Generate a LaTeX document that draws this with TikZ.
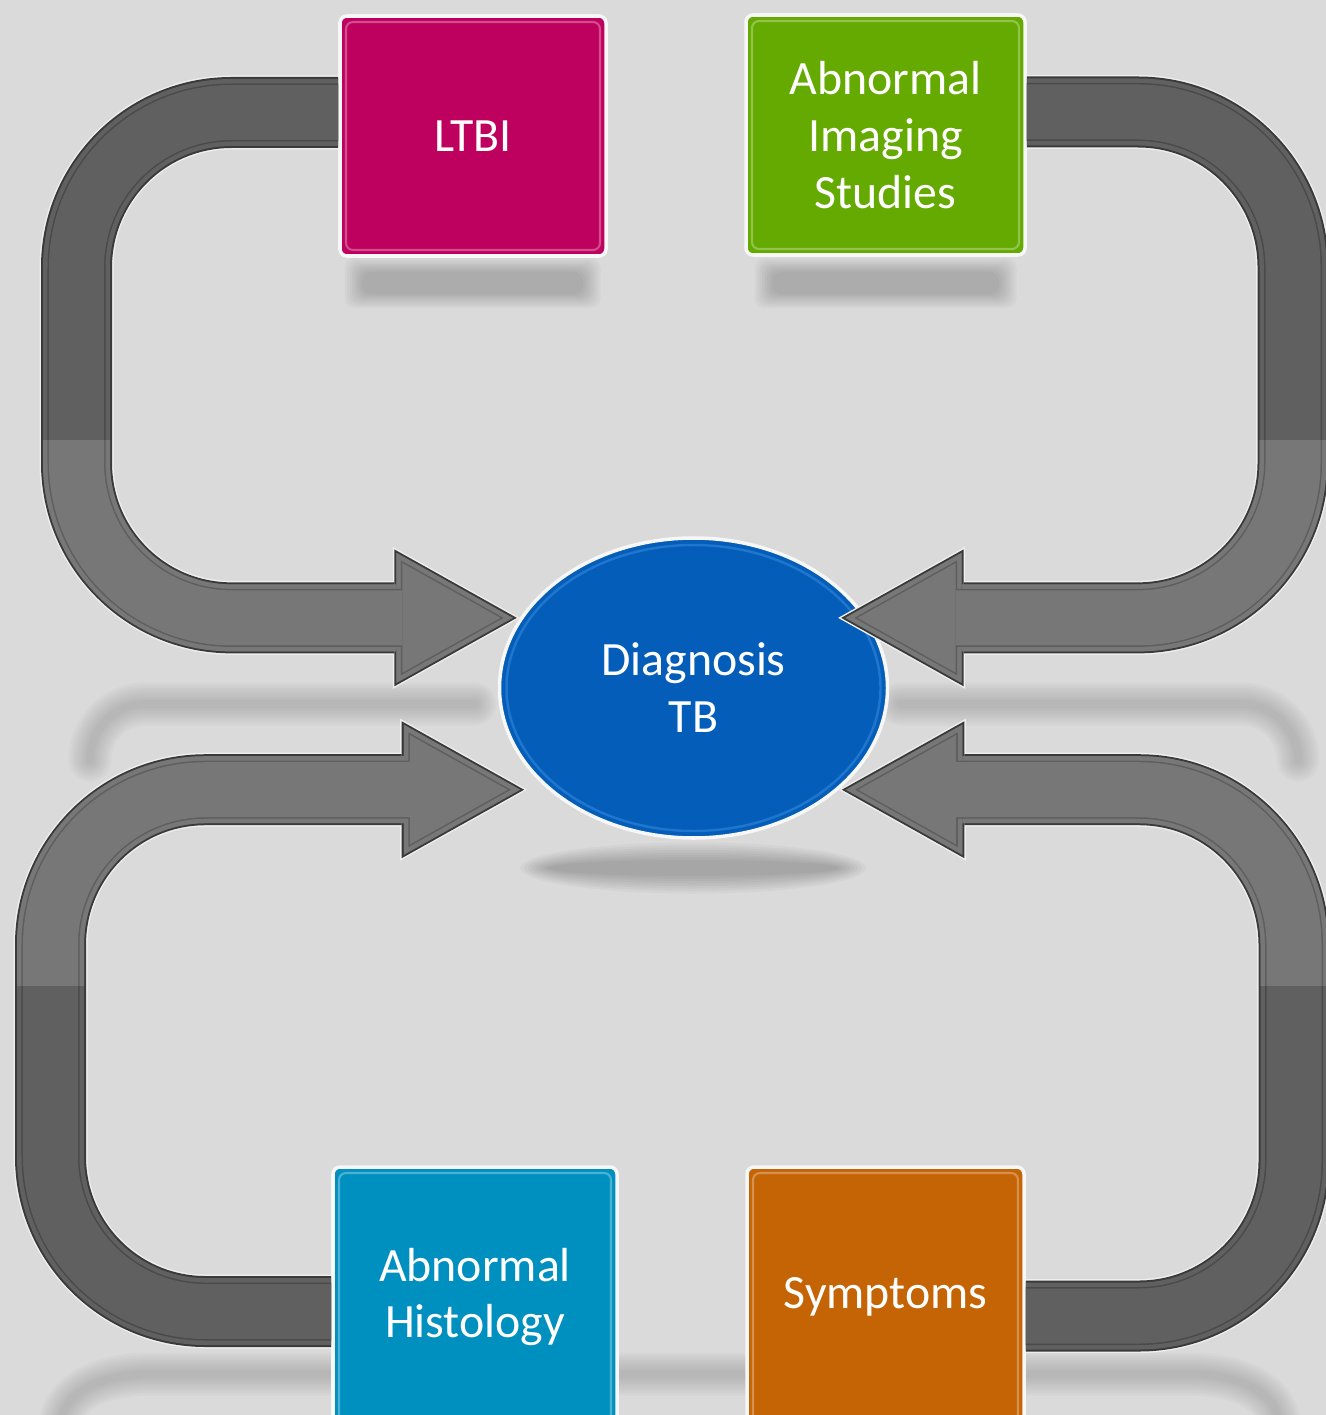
\documentclass[tikz,border=0pt]{standalone}
\usepackage{fontspec}
\setmainfont{Carlito}
\usetikzlibrary{arrows.meta,shapes.geometric}

\definecolor{bgcol}{HTML}{DADADA}
\definecolor{ltbicol}{HTML}{BE005E}
\definecolor{imgcol}{HTML}{64AA00}
\definecolor{histcol}{HTML}{0090C0}
\definecolor{sympcol}{HTML}{C46404}
\definecolor{diagcol}{HTML}{045EB9}
\definecolor{diaglight}{HTML}{3A8FE0}
\definecolor{bandrim}{HTML}{EEEEEE}
\definecolor{bandedge}{HTML}{3A3A3A}
\definecolor{banddark}{HTML}{606060}
\definecolor{bandline}{HTML}{4A4A4A}
\definecolor{bandlight}{HTML}{777777}
\definecolor{bandlineb}{HTML}{5E5E5E}

\tikzset{
  box/.style={draw=white!94!gray, line width=1pt, rounded corners=2pt,
    text=white, align=center, inner sep=0pt,
    font=\fontsize{13.6}{16.2}\selectfont,
    path picture={\draw[white, opacity=.3, line width=.6pt]
      ([shift={(.06,-.06)}]path picture bounding box.north west) rectangle
      ([shift={(-.06,.06)}]path picture bounding box.south east);}},
  hub/.style={ellipse, fill=diagcol, draw=white!94!gray, line width=1pt,
    minimum width=3.88cm, minimum height=3cm, inner sep=0pt,
    text=white, align=center, font=\fontsize{13.6}{16.2}\selectfont,
    path picture={\draw[diaglight, opacity=.5, line width=.7pt]
      (path picture bounding box.center) ellipse [x radius=1.87cm, y radius=1.43cm];}},
  softshadow/.style={black, opacity=.026, line cap=round}
}

% one layer of a fat arrow, inset by \d px
\newcommand\bandlayer{%
  \pgfmathsetmacro\f{(41.6-\d)/41.6}%
  \pgfmathsetlengthmacro\bandwd{(0.74-\d/50)*1cm}%
  \pgfmathsetlengthmacro\tiplen{1.27cm*\f}%
  \pgfmathsetlengthmacro\tipwid{1.42cm*\f}%
  \pgfmathsetlengthmacro\tipcut{0.0205cm*\d}%
  \draw[draw=\col, line width=\bandwd, rounded corners=1.55cm, shorten >=\tipcut,
    -{Triangle[length=\tiplen, width=\tipwid, line width=0pt]}] \bandpath;}

\begin{document}
\begin{tikzpicture}
   \useasboundingbox (0,0) rectangle (13.26,-14.15);
   \fill[bgcol] (0,0) rectangle (13.26,-14.15);

   % soft shadows and reflections
   \foreach \w in {0,...,7} {
      \fill[softshadow, rounded corners=.1cm]
         (3.62-\w*.025,-2.72+\w*.02) rectangle (5.83+\w*.025,-2.94-\w*.02)
         (7.72-\w*.025,-2.72+\w*.02) rectangle (9.99+\w*.025,-2.94-\w*.02);
      \draw[softshadow, opacity=.02, line width=.08cm+\w*.05cm]
         (4.75,-7.04) -- (1.45,-7.04) to[out=180,in=90] (.9,-7.6)
         (9.0,-7.04) -- (12.4,-7.04) to[out=0,in=90] (12.98,-7.6)
         (.6,-14.3) to[out=90,in=180] (1.5,-13.74) -- (11.9,-13.74) to[out=0,in=90] (12.8,-14.3);
      \fill[softshadow, opacity=.03] (6.93,-8.68) ellipse [x radius=1.45cm+\w*.04cm, y radius=.08cm+\w*.025cm];
   }

   \def \Boxes {
      ltbi/4.73/-1.36/2.66/2.40/ltbicol/LTBI,
      imaging/8.855/-1.35/2.79/2.40/imgcol/{Abnormal\\Imaging\\Studies},
      histology/4.75/-12.97/2.84/2.60/histcol/{Abnormal\\Histology},
      symptoms/8.855/-12.97/2.77/2.60/sympcol/Symptoms}
   \def \Links {
      ltbi.west/.235/.765/-1.125/158/0,
      imaging.east/.23/12.93/-1.12/22/-.29,
      histology.west/-.145/.505/-13.115/215/-.21,
      symptoms.east/-.19/12.94/-13.16/325/0}
   \def \DarkLayers {0/bandrim, 1.5/bandedge, 3.5/banddark, 8/bandline, 9.5/banddark}
   \def \LightLayers {3.5/bandlight, 8/bandlineb, 9.5/bandlight}

   \node[hub] (diag) at (6.935,-6.88) {Diagnosis\\TB};
   \foreach \n / \x / \y / \w / \h / \fillcol / \lbl in \Boxes {
      \node[box, fill=\fillcol, minimum width=\w cm, minimum height=\h cm] (\n) at (\x,\y) {\lbl};
   }

   \foreach \from / \dy / \vx / \sy / \ang / \dx in \Links {
      \def\bandpath{([yshift=\dy cm]\from) -- (\vx,\sy) |- ([xshift=\dx cm]diag.\ang)}
      \foreach \d / \col in \DarkLayers {\bandlayer}
      \begin{scope}
         \clip (0,-4.4) rectangle (13.26,-9.85);
         \foreach \d / \col in \LightLayers {\bandlayer}
      \end{scope}
   }
\end{tikzpicture}
\end{document}
